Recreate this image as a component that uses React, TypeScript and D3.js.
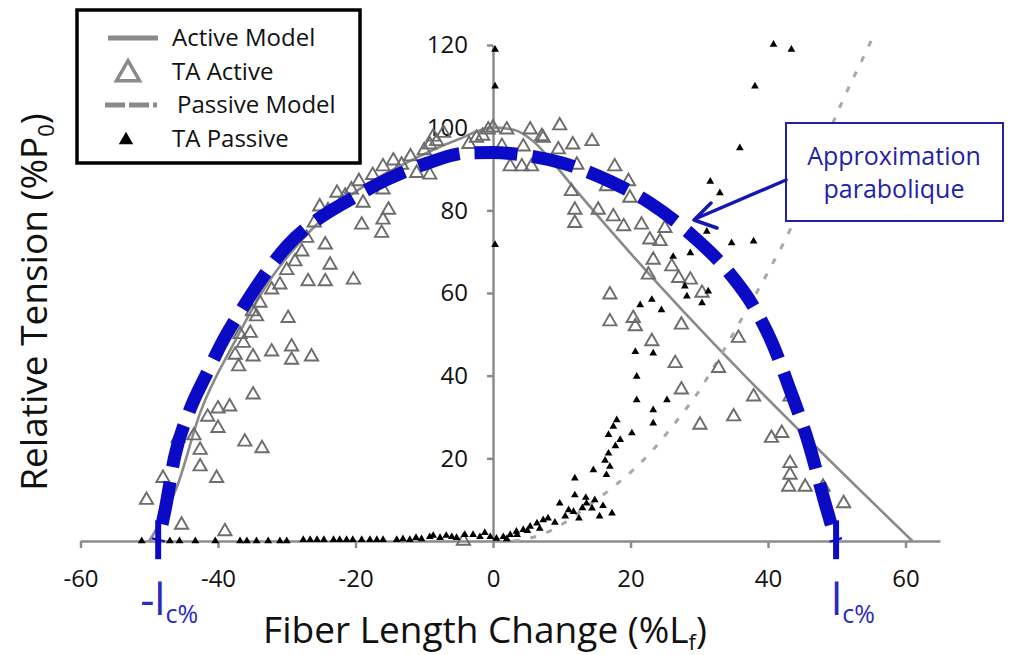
import React, { useEffect, useRef } from 'react';
import * as d3 from 'd3';

// Force-length relation of the TA muscle, with a hand-drawn
// "approximation parabolique" overlay and the ±l_c% markers.

const WIDTH = 1017;
const HEIGHT = 655;
const FONT = '"Open Sans", "Liberation Sans", sans-serif';
const AXIS_GREY = '#8c8c8c';

const xTicks = [-60, -40, -20, 0, 20, 40, 60];
const yTicks = [20, 40, 60, 80, 100, 120];

// [fiber length change (%Lf), relative tension (%P0)]
const taActive: [number, number][] = [
  [-50.4, 9.9], [-48.0, 15.2], [-45.3, 3.9], [-45.8, 24.9], [-42.6, 22], [-42.6, 18],
  [-40.2, 15.2], [-40.0, 27.3], [-40.0, 32], [-38.3, 32.5], [-39.0, 2.3], [-37.0, 42.2],
  [-36.3, 47.9], [-35.3, 50.3], [-34.9, 44.6], [-34.9, 35.4], [-36.1, 24], [-33.6, 22.4],
  [-34.4, 54.3], [-33.9, 57.6], [-32.2, 60.8], [-32.2, 45.8], [-29.8, 53.9], [-29.3, 47],
  [-29.3, 43.8], [-26.4, 44.6], [-28.8, 67.6], [-27.1, 73.3], [-26.9, 62.8], [-24.4, 62.8],
  [-23.7, 66.8], [-24.4, 71.7], [-25.2, 80.9], [-22.7, 84.2], [-20.3, 63.2], [-20.6, 85],
  [-18.9, 81.8], [-19.1, 76.5], [-16.2, 74.5], [-16.0, 77.7], [-15.2, 80.1], [-16.0, 85],
  [-16.0, 90.6], [-13.3, 91], [-11.1, 89], [-9.2, 88.6], [-8.2, 96.7], [-7.2, 98.7],
  [-4.3, 0], [-9.2, 95.9], [-8.7, 97.8], [-2.4, 97.5], [-0.7, 99.5],
  [-37.5, 45], [-36.8, 50], [-35.0, 55.5], [-31, 62], [-30, 65.5], [-27.8, 70], [-26, 77],
  [-24, 80], [-21.5, 83.5], [-19.5, 87], [-17.5, 88.5], [-14.5, 92], [-12, 93], [-10, 94.5],
  [-41.5, 30], [-43.5, 25.5],
  [0, 100], [2, 99.5], [2.5, 90.6], [4.2, 90.6], [1.3, 95.5], [4.4, 95.4], [5.4, 99.5],
  [7.3, 97.5], [9.7, 100.5], [11.6, 95.9], [14.4, 96.7], [5.6, 90.6], [7.1, 97.9],
  [9.5, 94.7], [12.2, 91], [-1.5, 98], [-3.5, 96],
  [11.4, 84.6], [11.9, 80.1], [11.9, 76.9], [15.3, 80.1], [16.5, 85.8], [17.7, 90.6],
  [19.7, 87], [19.9, 83], [17.5, 78.5], [19, 76.1], [21.6, 76.5], [25, 75.7], [22.8, 72.9],
  [24.3, 72.5], [23.3, 68], [22.6, 64.4], [26, 66.4], [27, 63.6], [28.7, 63.2], [30.4, 60],
  [17, 59.6], [17, 53.1], [20.4, 53.9], [20.7, 51.9], [27.4, 52.3], [23.1, 48.3], [26.5, 43],
  [32.8, 41.8], [35.7, 49.1], [27.4, 36.6], [30.1, 28.1], [35, 30.1], [37.9, 34.9],
  [43.2, 34.9], [40.5, 24.9], [42, 26.1], [43.2, 18.8], [43, 13.1], [45.4, 13.1], [48, 13.1],
  [51, 9.1], [43.2, 16],
];

const taPassive: [number, number][] = [
  [-51.1, 0], [-47.0, 0], [-45.6, 0], [-43.3, 0], [-40.4, 0], [-36.8, 0], [-35.8, 0],
  [-34.4, 0], [-32.7, 0], [-31.0, 0], [-30.0, 0], [-27.6, 0.3], [-26.6, 0.3], [-25.6, 0.3],
  [-24.6, 0.3], [-23.2, 0.3], [-22.3, 0.3], [-21.3, 0.3], [-20.4, 0.3], [-19.1, 0.3],
  [-17.9, 0.3], [-16.9, 0.3], [-16.0, 0.3], [-14.0, 0.3], [-13.1, 0.5], [-12.1, 0.3],
  [-11.2, 0.8], [-10.4, 0.5], [-9.2, 1], [-8.7, 1.3], [-7.7, 0.8], [-6.8, 1.3], [-6.0, 1],
  [-5.3, 0.8], [-4.1, 1.5], [-2.9, 1.5], [-1.9, 1], [-1.2, 2], [-0.4, 1],
  [0.5, 0.6], [1.5, 1], [2.5, 1.5], [3.4, 2.3], [4.4, 2.7], [5.4, 3.5], [6.4, 4.3],
  [7.3, 5.1], [8.0, 5.5], [9.7, 9.1], [11, 7.5], [11.9, 11.1], [11.9, 15.2], [11.7, 7.1],
  [13.6, 9.1], [14.4, 7.9], [14.8, 9.9], [14.6, 17.2], [16.5, 16], [17.3, 6.7], [16.8, 21.2],
  [16.8, 25.7], [17.5, 27.7], [18, 29.3], [18.5, 24.5], [20.2, 26.1], [20.9, 34.1],
  [20.9, 39.8], [20.7, 45.8], [23.3, 45.4], [23.3, 31.7], [23.3, 28.5], [25.3, 34.1],
  [21.4, 57.1], [23.1, 58.4], [24.5, 55.9], [26.2, 68.8], [28.7, 69.7], [27.9, 61.6],
  [28.2, 59.2], [30.4, 57.6], [31.3, 60.4], [31.1, 74.9], [31.6, 87], [33, 84.2],
  [34.7, 72.1], [37.9, 72.5], [35.9, 95.1], [38.1, 110], [40.8, 120.1], [43.4, 118.9],
  [0.3, 118.9], [0.3, 110], [0.3, 71.7],
  [12.5, 5.5], [13, 8], [15.5, 6], [16, 8.5], [13.5, 10.5], [10.5, 6], [6.8, 3], [9, 4.5],
  [2, 0.5], [3.5, 1.5], [5, 2.5], [17, 18], [17.8, 23], [16.3, 19.5],
];

const activeModel: [number, number][] = [
  [-50, 0], [-46, 13], [-42.6, 31], [-37.8, 47.5], [-32.9, 62], [-26.6, 75], [-20.4, 84],
  [-12.6, 91.5], [-5.3, 97], [0, 100], [3, 99.5], [6, 96.5], [9, 91], [12, 85], [61, 0],
];

const passiveModel: [number, number][] = [
  [3, 0], [7, 1.5], [10, 4], [13, 7.5], [17.5, 13.1], [20.4, 17.2], [22.8, 21.2],
  [25.3, 26.1], [27.2, 30.1], [29.6, 35.4], [33, 44.6], [36.9, 55.9], [40.3, 66],
  [43.2, 75.3], [46.6, 89.8], [50.5, 105.2], [54.4, 118.9], [55, 121],
];

// traced centre line of the blue dashed overlay
const approxCurve: [number, number][] = [
  [-48.7, 0], [-47.7, 7.5], [-46.3, 20.4], [-44.1, 31.7], [-41.6, 40.6], [-39.2, 48.7],
  [-36.3, 56.7], [-33.4, 64], [-30.0, 71.3], [-25.6, 77.7], [-20.8, 82.6], [-15.5, 87.4],
  [-9.6, 91.4], [-3.8, 93.9], [0, 94], [3.9, 93.5], [10.2, 91.4], [16.5, 87.4],
  [22.8, 81.8], [29.1, 73.7], [34, 65.6], [37.9, 56.7], [40.5, 48.3], [43.2, 36.6],
  [45.9, 23.7], [48.3, 9.1], [49.9, 0],
];

const lcMarks = [-48.7, 49.9];

const legendItems = [
  { label: 'Active Model', kind: 'line' },
  { label: 'TA Active', kind: 'hollow' },
  { label: 'Passive Model', kind: 'dash' },
  { label: 'TA Passive', kind: 'filled' },
];

export default function App() {
  const svgRef = useRef<SVGSVGElement>(null);

  useEffect(() => {
    document.body.style.margin = '0';
    const svg = d3.select(svgRef.current);
    svg.selectAll('*').remove();
    svg.append('rect').attr('width', WIDTH).attr('height', HEIGHT).attr('fill', 'white');

    const x = d3.scaleLinear().domain([-60, 65]).range([80.5, 939.9]);
    const y = d3.scaleLinear().domain([0, 120]).range([541, 45]);

    // Axes crossing at the origin.
    const xAxis = svg
      .append('g')
      .attr('transform', `translate(0,${y(0)})`)
      .call(
        d3.axisBottom(x).tickValues(xTicks).tickSize(7).tickSizeOuter(0)
          .tickFormat((d) => String(d)),
      );
    const yAxis = svg
      .append('g')
      .attr('transform', `translate(${x(0)},0)`)
      .call(
        d3.axisLeft(y).tickValues(yTicks).tickSize(6).tickSizeOuter(0).tickPadding(19)
          .tickFormat((d) => String(d)),
      );
    [xAxis, yAxis].forEach((g) => {
      g.attr('font-family', FONT).attr('font-size', 24);
      g.select('.domain').attr('stroke', AXIS_GREY).attr('stroke-width', 2.5);
      g.selectAll('.tick line').attr('stroke', AXIS_GREY).attr('stroke-width', 2.5);
      g.selectAll('.tick text').attr('fill', '#111');
    });
    xAxis.selectAll('.tick text').attr('y', 46).attr('dy', 0);

    // Model curves.
    const line = d3
      .line<[number, number]>()
      .x((d) => x(d[0]))
      .y((d) => y(d[1]))
      .curve(d3.curveMonotoneX);

    svg.append('path').datum(activeModel)
      .attr('fill', 'none').attr('stroke', '#8a8a8a').attr('stroke-width', 2.6)
      .attr('d', line);
    svg.append('path').datum(passiveModel)
      .attr('fill', 'none').attr('stroke', '#a8a8a8').attr('stroke-width', 3)
      .style('stroke-dasharray', '6, 11').attr('d', line);

    // Scatter series.
    const hollow = d3.symbol().type(d3.symbolTriangle).size(76);
    svg.append('g').selectAll('path').data(taActive).enter().append('path')
      .attr('transform', (d) => `translate(${x(d[0])},${y(d[1])})`)
      .attr('d', hollow())
      .attr('fill', 'none').attr('stroke', '#6c6c6c').attr('stroke-width', 1.9);

    const filled = d3.symbol().type(d3.symbolTriangle).size(26);
    svg.append('g').selectAll('path').data(taPassive).enter().append('path')
      .attr('transform', (d) => `translate(${x(d[0])},${y(d[1])})`)
      .attr('d', filled())
      .attr('fill', '#000');

    // Blue dashed approximation, dash centred on the apex.
    const approx = svg.append('path').datum(approxCurve)
      .attr('fill', 'none').attr('stroke', '#0b0bc6').attr('stroke-width', 13)
      .style('stroke-dasharray', '43, 15').attr('d', line);
    const node = approx.node() as SVGPathElement;
    const half = node.getTotalLength() / 2;
    approx.style('stroke-dashoffset', `${(((21.5 - half) % 58) + 58) % 58}`);

    svg.append('g').selectAll('line').data(lcMarks).enter().append('line')
      .attr('x1', (d) => x(d)).attr('x2', (d) => x(d))
      .attr('y1', y(5)).attr('y2', y(-4.4))
      .attr('stroke', '#0b0bc6').attr('stroke-width', 6);

    // -l_c% and l_c% labels.
    lcMarks.forEach((m, i) => {
      const t = svg.append('text')
        .attr('x', i === 0 ? x(m) - 18 : x(m) - 5)
        .attr('y', 615)
        .attr('font-family', FONT).attr('fill', '#2b2bbf');
      t.append('tspan').attr('font-size', 44).text(i === 0 ? '-l' : 'l');
      t.append('tspan').attr('font-size', 25).attr('dy', 8).text('c%');
    });

    // Axis titles.
    const xt = svg.append('text')
      .attr('x', 485).attr('y', 643).attr('text-anchor', 'middle')
      .attr('font-family', FONT).attr('font-size', 37).attr('fill', '#111');
    xt.append('tspan').text('Fiber Length Change (%L');
    xt.append('tspan').attr('font-size', 22).attr('dy', 7).text('f');
    xt.append('tspan').attr('dy', -7).text(')');

    const yt = svg.append('text')
      .attr('transform', 'translate(47,302) rotate(-90)')
      .attr('text-anchor', 'middle')
      .attr('font-family', FONT).attr('font-size', 37).attr('fill', '#111');
    yt.append('tspan').text('Relative Tension (%P');
    yt.append('tspan').attr('font-size', 22).attr('dy', 7).text('0');
    yt.append('tspan').attr('dy', -7).text(')');

    // Legend.
    const lg = svg.append('g');
    lg.append('rect')
      .attr('x', 77).attr('y', 10).attr('width', 283).attr('height', 153)
      .attr('fill', 'white').attr('stroke', '#000').attr('stroke-width', 3.5);
    const rowY = [38, 72, 105, 139];
    legendItems.forEach((item, i) => {
      const cy = rowY[i];
      if (item.kind === 'line') {
        lg.append('line').attr('x1', 108).attr('x2', 158).attr('y1', cy).attr('y2', cy)
          .attr('stroke', '#8a8a8a').attr('stroke-width', 5);
      } else if (item.kind === 'dash') {
        lg.append('line').attr('x1', 105).attr('x2', 157).attr('y1', cy).attr('y2', cy)
          .attr('stroke', '#8a8a8a').attr('stroke-width', 5)
          .style('stroke-dasharray', '20, 4');
      } else if (item.kind === 'hollow') {
        lg.append('path').attr('transform', `translate(128,${cy + 2})`)
          .attr('d', d3.symbol().type(d3.symbolTriangle).size(230)())
          .attr('fill', 'none').attr('stroke', '#8a8a8a').attr('stroke-width', 3.5);
      } else {
        lg.append('path').attr('transform', `translate(126,${cy + 1})`)
          .attr('d', d3.symbol().type(d3.symbolTriangle).size(90)())
          .attr('fill', '#000');
      }
      lg.append('text')
        .attr('x', item.kind === 'dash' ? 177 : 172).attr('y', cy + 8)
        .attr('font-family', FONT).attr('font-size', 24).attr('fill', '#111')
        .text(item.label);
    });

    // Annotation box with arrow.
    const blue = '#2222a6';
    svg.append('rect')
      .attr('x', 786).attr('y', 123).attr('width', 217).attr('height', 98)
      .attr('fill', 'white').attr('stroke', blue).attr('stroke-width', 2);
    svg.append('text')
      .attr('x', 894).attr('y', 165).attr('text-anchor', 'middle')
      .attr('font-family', FONT).attr('font-size', 25).attr('fill', blue)
      .text('Approximation');
    svg.append('text')
      .attr('x', 894).attr('y', 198).attr('text-anchor', 'middle')
      .attr('font-family', FONT).attr('font-size', 25).attr('fill', blue)
      .text('parabolique');
    svg.append('path')
      .attr('d', 'M786,180 L695,219 M711,203 L694,220 L717,228')
      .attr('fill', 'none').attr('stroke', '#1616b4').attr('stroke-width', 3.5)
      .attr('stroke-linecap', 'round').attr('stroke-linejoin', 'round');
  }, []);

  return <svg ref={svgRef} width={WIDTH} height={HEIGHT} style={{ display: 'block' }} />;
}
